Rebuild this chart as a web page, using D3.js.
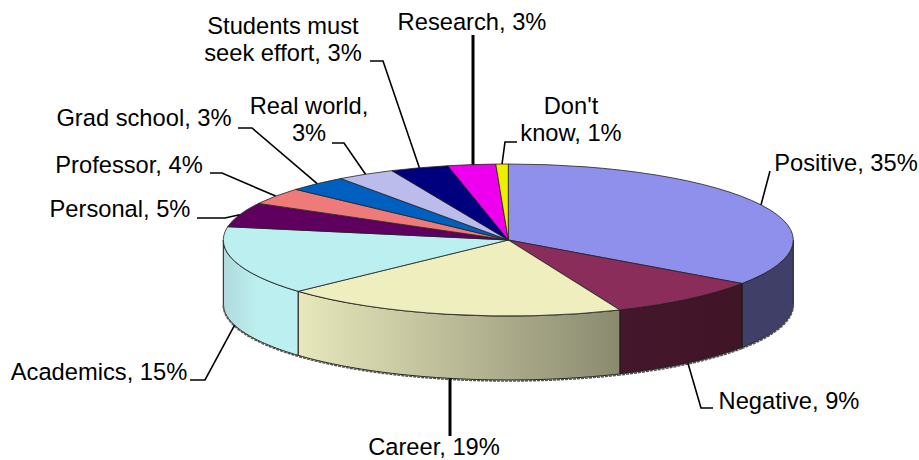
<!DOCTYPE html>
<html><head><meta charset="utf-8">
<script src="https://cdn.jsdelivr.net/npm/d3@7"></script>
<style>html,body{margin:0;padding:0;background:#fff}svg{display:block}</style>
</head><body><svg id="c" width="919" height="460"></svg>
<script>
const categories = ["Positive","Negative","Career","Academics","Personal","Professor","Grad school","Real world","Students must seek effort","Research","Don't know"];
const shares = [34.7,8.9,19.6,14.6,5.2,3.6,3.4,3.3,3.3,2.7,0.7];
const percentLabels = [35,9,19,15,5,4,3,3,3,3,1];
const topColors = ["#8f8fec","#8b2d5a","#eeeebf","#bcefef","#5f0060","#ef7a7a","#0060c0","#bcbcec","#00007f","#ee00ee","#eeee00"];
const wallStops = [["#3f3f68","#3f3f68"],["#45162c","#401526"],["#e8e8bc","#8a8a70"],["#b0dadd","#bcefef"]];

const labelLines = [["Positive, 35%"],["Negative, 9%"],["Career, 19%"],["Academics, 15%"],["Personal, 5%"],["Professor, 4%"],["Grad school, 3%"],["Real world,","3%"],["Students must","seek effort, 3%"],["Research, 3%"],["Don't","know, 1%"]];
const labelAt = [[846,163],[789,401],[434,447],[99,372],[120,209],[129,165],[144,118],[309,106],[283,26],[472,22],[571,106]];
const elbows = [
 [[770,171]],
 [[713,408],[701,408]],
 [[450,436]],
 [[190,380],[205,380]],
 [[197,218],[225,218]],
 [[210,173],[222,173]],
 [[238,128],[252,128]],
 [[332,143],[344,143]],
 [[370,61],[383,61]],
 [[473,35]],
 [[517,142],[505,142]]
];
const thick = [false,false,true,false,false,false,false,false,false,true,false];

const cx=508.3, cy=240, rx=285, ry=76, depth=64;
const svg=d3.select("#c");
const pie=d3.pie().sort(null).startAngle(0).endAngle(2*Math.PI).value(d=>d);
const arcs=pie(shares);
const X=a=>cx+rx*Math.sin(a), Y=a=>cy-ry*Math.cos(a);
const line=d3.line();
const defs=svg.append("defs");

// side walls
arcs.forEach((d,i)=>{
  const a0=Math.max(d.startAngle,Math.PI/2), a1=Math.min(d.endAngle,3*Math.PI/2);
  if(a1<=a0) return;
  const n=60, as=d3.range(n+1).map(k=>a0+(a1-a0)*k/n);
  const pts=as.map(a=>[X(a),Y(a)]).concat(as.slice().reverse().map(a=>[X(a),Y(a)+depth]));
  const g=wallStops[i];
  const id="w"+i;
  const lg=defs.append("linearGradient").attr("id",id).attr("gradientUnits","userSpaceOnUse")
    .attr("x1",d3.min(as,X)).attr("x2",d3.max(as,X)).attr("y1",0).attr("y2",0);
  lg.append("stop").attr("offset",0).attr("stop-color",g[0]);
  lg.append("stop").attr("offset",i===3?.45:1).attr("stop-color",g[1]);
  svg.append("path").attr("d",line(pts)+"Z").attr("fill",`url(#${id})`).attr("stroke","#1a1a1a").attr("stroke-width",1);
  svg.append("path").attr("d",line(as.map(a=>[X(a),Y(a)+depth+1]))).attr("fill","none").attr("stroke","#555").attr("stroke-width",1.6).attr("stroke-dasharray","3 1");
});

// top face
const arcGen=d3.arc().innerRadius(0).outerRadius(rx);
svg.append("g").attr("transform",`translate(${cx},${cy}) scale(1,${ry/rx})`)
  .selectAll("path").data(arcs).join("path")
  .attr("d",arcGen).attr("fill",(d,i)=>topColors[i])
  .attr("stroke","#222").attr("stroke-width",.8).attr("vector-effect","non-scaling-stroke");

// leaders
arcs.forEach((d,i)=>{
  const m=(d.startAngle+d.endAngle)/2;
  const c=Math.cos(m);
  const end=[thick[i]?elbows[i][0][0]:X(m),Y(m)+(c<0?depth:0)];
  svg.append("path").attr("d",line(elbows[i].concat([end]))).attr("fill","none")
    .attr("stroke","#000").attr("stroke-width",thick[i]?3:1.6);
});

// labels
labelLines.forEach((ls,i)=>{
  ls.forEach((t,k)=>{
    svg.append("text").attr("x",labelAt[i][0]).attr("y",labelAt[i][1]+k*27+8)
      .attr("text-anchor","middle").attr("font-family","'Liberation Sans',Arial,sans-serif")
      .attr("font-size",23.7).attr("fill","#000").text(t);
  });
});
</script></body></html>
